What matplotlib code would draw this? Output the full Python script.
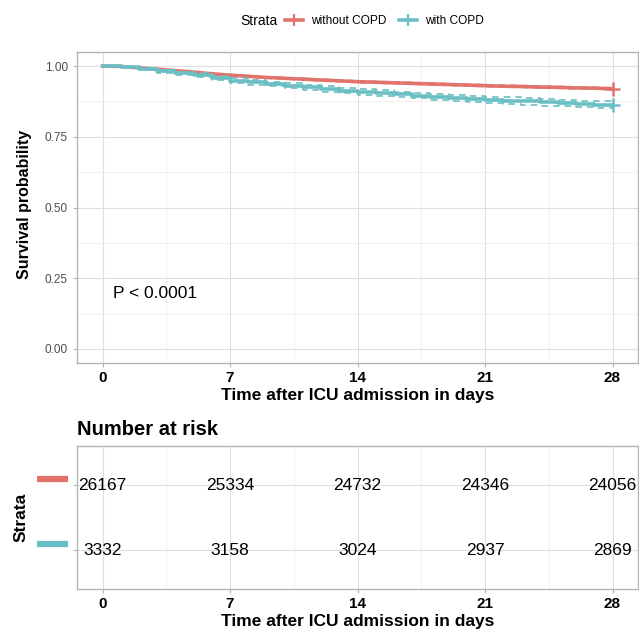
import matplotlib
matplotlib.use("Agg")
import matplotlib.pyplot as plt
import numpy as np
from matplotlib.lines import Line2D
from matplotlib.ticker import MultipleLocator

plt.rcParams['font.family'] = ['Liberation Sans', 'DejaVu Sans']

# ---- data ----
days = list(range(29))
surv_without = [1.000, 0.999, 0.994, 0.989, 0.984, 0.979, 0.973, 0.968,
                0.964, 0.960, 0.957, 0.954, 0.951, 0.948, 0.945,
                0.943, 0.941, 0.939, 0.937, 0.935, 0.933, 0.931,
                0.929, 0.928, 0.926, 0.925, 0.923, 0.922, 0.920]
surv_with = [1.000, 0.998, 0.990, 0.982, 0.975, 0.968, 0.958, 0.949,
             0.943, 0.937, 0.931, 0.925, 0.919, 0.913, 0.908,
             0.904, 0.900, 0.896, 0.892, 0.888, 0.885, 0.881,
             0.878, 0.875, 0.872, 0.869, 0.866, 0.864, 0.862]
ci_without = [0, 0.0004, 0.0009, 0.0013, 0.0015, 0.0018, 0.002, 0.0021,
              0.0023, 0.0024, 0.0025, 0.0026, 0.0027, 0.0027, 0.0028,
              0.0029, 0.0029, 0.003, 0.003, 0.0031, 0.0031, 0.0031,
              0.0032, 0.0032, 0.0032, 0.0033, 0.0033, 0.0033, 0.0033]
ci_with = [0, 0.001, 0.0033, 0.0046, 0.0053, 0.006, 0.0068, 0.0075,
           0.008, 0.0084, 0.0087, 0.009, 0.0093, 0.0096, 0.0098,
           0.0100, 0.0102, 0.0104, 0.0106, 0.0108, 0.0109, 0.011,
           0.0111, 0.0112, 0.0113, 0.0114, 0.0115, 0.0116, 0.0116]

strata = ['without COPD', 'with COPD']
colors = ['#E2736C', '#6ABFC4']
risk_times = [0, 7, 14, 21, 28]
risk_without = [26167, 25334, 24732, 24346, 24056]
risk_with = [3332, 3158, 3024, 2937, 2869]

W, H = 639, 629
fig = plt.figure(figsize=(W / 100, H / 100), dpi=100)

def px_axes(left, top, right, bottom):
    return fig.add_axes([left / W, 1 - bottom / H, (right - left) / W, (bottom - top) / H])

border = '#B3B3B3'
grid_c = '#DEDEDE'

def style(ax):
    for s in ax.spines.values():
        s.set_color(border)
        s.set_linewidth(1.0)
    ax.set_xlim(-1.4, 29.4)
    ax.xaxis.set_major_locator(MultipleLocator(7))
    ax.xaxis.set_minor_locator(MultipleLocator(3.5))
    ax.grid(True, which='major', color=grid_c, lw=0.8)
    ax.grid(True, which='minor', color='#EBEBEB', lw=0.5)
    ax.set_axisbelow(True)
    ax.tick_params(which='major', color=border, length=3, width=0.8)
    ax.tick_params(which='minor', length=0)
    ax.tick_params(axis='x', labelsize=11, labelcolor='black', pad=3)
    ax.set_xlabel('Time after ICU admission in days', fontsize=12.5,
                  fontweight='bold', labelpad=2)

# ---- survival curves ----
ax = px_axes(77, 52, 638, 363)
style(ax)
ax.set_ylim(-0.05, 1.05)
ax.yaxis.set_minor_locator(MultipleLocator(0.125))
ax.set_yticks([0, 0.25, 0.5, 0.75, 1.0])
ax.set_yticklabels(['0.00', '0.25', '0.50', '0.75', '1.00'])
ax.tick_params(axis='y', labelsize=8.5, labelcolor='#4D4D4D')
ax.set_ylabel('Survival probability', fontsize=11.5, fontweight='bold')
ax.yaxis.set_label_coords(-0.081, 0.51)

# the large group has many tiny steps, so it reads as a smooth line
for surv, ci, col, ds in [(surv_without, ci_without, colors[0], 'default'),
                          (surv_with, ci_with, colors[1], 'steps-post')]:
    s = np.array(surv)
    c = np.array(ci)
    ax.plot(days, s + c, drawstyle=ds, color=col, lw=1.2, ls=(0, (4, 3)))
    ax.plot(days, s - c, drawstyle=ds, color=col, lw=1.2, ls=(0, (4, 3)))
    ax.plot(days, s, drawstyle=ds, color=col, lw=2.6)
    ax.plot(days[-1], s[-1], marker='+', color=col, ms=10, mew=1.8)

ax.text(0.55, 0.197, 'P < 0.0001', fontsize=12.5, va='center', ha='left')
for t in ax.get_xticklabels():
    t.set_fontweight('bold')

# ---- legend ----
fig.text(240 / W, 1 - 21 / H, 'Strata', fontsize=10, va='center', ha='left')
handles = [Line2D([], [], color=c, lw=2.6, marker='+', ms=9, mew=1.6) for c in colors]
fig.legend(handles, strata, loc='center left', bbox_to_anchor=(285 / W, 1 - 21 / H),
           ncol=2, frameon=False, fontsize=8.6, handlelength=1.5,
           handletextpad=0.7, columnspacing=1.0, borderpad=0, borderaxespad=0)

# ---- number at risk table ----
rt = px_axes(77, 446, 638, 589)
style(rt)
rt.set_ylim(0.4, 2.6)
rt.set_yticks([1, 2])
rt.set_yticklabels([])
rt.set_ylabel('Strata', fontsize=12.5, fontweight='bold')
rt.yaxis.set_label_coords(-0.086, 0.5)
rt.set_title('Number at risk', fontsize=14.5, fontweight='bold', loc='left', pad=8)
for row, vals, col in [(2, risk_without, colors[0]), (1, risk_with, colors[1])]:
    for t, v in zip(risk_times, vals):
        rt.text(t, row - 0.01, str(v), fontsize=12.5, ha='center', va='center')
    rt.plot([-0.071, -0.016], [row + 0.095, row + 0.095], color=col, lw=4.5,
            transform=rt.get_yaxis_transform(), clip_on=False,
            solid_capstyle='butt')
for t in rt.get_xticklabels():
    t.set_fontweight('bold')

fig.savefig('out.png', dpi=100)
